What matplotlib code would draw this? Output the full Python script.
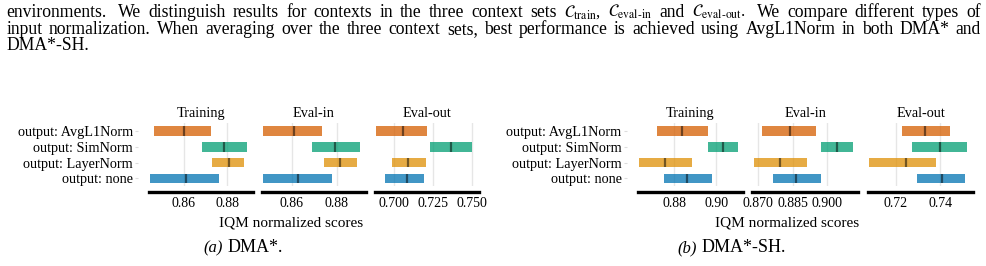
import matplotlib
matplotlib.use("Agg")
import matplotlib.pyplot as plt
import numpy as np

plt.rcParams['font.family'] = ['Liberation Serif', 'DejaVu Serif']
plt.rcParams['mathtext.fontset'] = 'stix'

W, H = 986, 266

methods = ['output: AvgL1Norm', 'output: SimNorm', 'output: LayerNorm', 'output: none']
colors = ['#D55E00', '#029E73', '#DE8F05', '#0173B2']
contexts = ['Training', 'Eval-in', 'Eval-out']

# Panel (a) DMA*: lower, upper, median per method
a_train_lo = [0.8464, 0.8686, 0.8732, 0.8445]
a_train_hi = [0.8727, 0.8891, 0.8877, 0.8764]
a_train_md = [0.8602, 0.8785, 0.8808, 0.8610]
a_evin_lo = [0.8471, 0.8689, 0.8742, 0.8471]
a_evin_hi = [0.8732, 0.8902, 0.8889, 0.8778]
a_evin_md = [0.8609, 0.8790, 0.8812, 0.8628]
a_evout_lo = [0.6882, 0.7231, 0.6985, 0.6940]
a_evout_hi = [0.7211, 0.7505, 0.7205, 0.7194]
a_evout_md = [0.7059, 0.7369, 0.7091, 0.7080]

# Panel (b) DMA*-SH
b_train_lo = [0.8718, 0.8960, 0.8632, 0.8751]
b_train_hi = [0.8960, 0.9103, 0.8884, 0.8979]
b_train_md = [0.8838, 0.9033, 0.8757, 0.8863]
b_evin_lo = [0.8716, 0.8973, 0.8681, 0.8764]
b_evin_hi = [0.8950, 0.9111, 0.8914, 0.8971]
b_evin_md = [0.8837, 0.9042, 0.8794, 0.8865]
b_evout_lo = [0.7228, 0.7273, 0.7080, 0.7295]
b_evout_hi = [0.7445, 0.7518, 0.7380, 0.7509]
b_evout_md = [0.7333, 0.7399, 0.7246, 0.7407]

a_ticks = [[0.86, 0.88], [0.86, 0.88], [0.700, 0.725, 0.750]]
a_ticklabels = [['0.86', '0.88'], ['0.86', '0.88'], ['0.700', '0.725', '0.750']]
b_ticks = [[0.88, 0.90], [0.870, 0.885, 0.900], [0.72, 0.74]]
b_ticklabels = [['0.88', '0.90'], ['0.870', '0.885', '0.900'], ['0.72', '0.74']]

a_xlims = [(0.8441, 0.8918), (0.8467, 0.8929), (0.6875, 0.7547)]
b_xlims = [(0.8626, 0.9129), (0.8673, 0.9135), (0.7075, 0.7548)]

a_px = [(149, 253), (262, 366), (375, 479)]
b_px = [(637.7, 743.3), (752, 858.3), (867.7, 973.3)]

fig = plt.figure(figsize=(W / 100, H / 100), dpi=100)

ax_top, ax_bot = 123.0, 186.4
PLOT_FS = 10.3


def make_panel(pxs, data, ticks, ticklabels, xlims):
    for i, ((x0, x1), (lo, hi, md)) in enumerate(zip(pxs, data)):
        ax = fig.add_axes([x0 / W, 1 - ax_bot / H, (x1 - x0) / W, (ax_bot - ax_top) / H])
        y = np.arange(len(methods))
        lo = np.array(lo); hi = np.array(hi)
        ax.barh(y, hi - lo, left=lo, height=0.6, color=colors, alpha=0.75, zorder=2)
        ax.vlines(md, y - 0.3, y + 0.3, colors='k', alpha=0.5, lw=1.6, zorder=3)
        ax.set_ylim(3.5, -0.5)
        ax.set_xlim(*xlims[i])
        ax.set_xticks(ticks[i])
        ax.set_xticklabels(ticklabels[i])
        ax.xaxis.grid(True, color='#e6e6e6', lw=1.0, zorder=0)
        ax.set_axisbelow(True)
        for s in ['top', 'right']:
            ax.spines[s].set_visible(False)
        ax.spines['left'].set_visible(False)
        ax.spines['left'].set_position(('outward', 8))
        ax.spines['bottom'].set_position(('outward', 4.3))
        ax.spines['bottom'].set_linewidth(2.4)
        ax.spines['bottom'].set_color('black')
        ax.tick_params(axis='x', length=0, pad=3.5, labelsize=10)
        if i == 0:
            ax.set_yticks(y)
            ax.set_yticklabels(methods)
            ax.tick_params(axis='y', length=2, width=0.8, color='#dddddd', pad=1.5,
                           labelsize=PLOT_FS)
        else:
            ax.set_yticks([])
        ax.set_title(contexts[i], fontsize=PLOT_FS, pad=4)


make_panel(a_px, [(a_train_lo, a_train_hi, a_train_md), (a_evin_lo, a_evin_hi, a_evin_md),
                  (a_evout_lo, a_evout_hi, a_evout_md)], a_ticks, a_ticklabels, a_xlims)
make_panel(b_px, [(b_train_lo, b_train_hi, b_train_md), (b_evin_lo, b_evin_hi, b_evin_md),
                  (b_evout_lo, b_evout_hi, b_evout_md)], b_ticks, b_ticklabels, b_xlims)

# x labels
fig.text(290.7 / W, 1 - 223 / H, 'IQM normalized scores', ha='center', va='center', fontsize=11)
fig.text(786.7 / W, 1 - 223 / H, 'IQM normalized scores', ha='center', va='center', fontsize=11)

# sub captions
fig.text(223 / W, 1 - 248 / H, '(a)', ha='right', va='center', fontsize=12, style='italic')
fig.text(227.5 / W, 1 - 248 / H, 'DMA*.', ha='left', va='center', fontsize=13)
fig.text(697 / W, 1 - 248 / H, '(b)', ha='right', va='center', fontsize=12, style='italic')
fig.text(701.7 / W, 1 - 248 / H, 'DMA*-SH.', ha='left', va='center', fontsize=13)

# caption (justified, extra space after sentence ends)
cap_lines = [
    r'environments. We distinguish results for contexts in the three context sets $\mathcal{C}_{\mathrm{train}}$, $\mathcal{C}_{\mathrm{eval\text{-}in}}$ and $\mathcal{C}_{\mathrm{eval\text{-}out}}$. We compare different types of',
    'input normalization. When averaging over the three context sets, best performance is achieved using AvgL1Norm in both DMA* and',
    'DMA*-SH.',
]
baselines = [17.0, 33.6, 50.3]
cap_fs = 12.7
renderer = fig.canvas.get_renderer()
x_left, x_right = 6.5, 981.0
for li, (line, bl) in enumerate(zip(cap_lines, baselines)):
    words = line.split(' ')
    texts = []
    widths = []
    for w in words:
        fs = cap_fs - 0.7 if w.startswith('$') else cap_fs
        t = fig.text(0, 1 - bl / H, w, ha='left', va='baseline', fontsize=fs)
        bb = t.get_window_extent(renderer)
        texts.append(t)
        widths.append(bb.width)
    # sentence ends get a wider space (weight 1.6)
    weights = [1.6 if w.endswith('.') and li == 0 else 1.0 for w in words[:-1]]
    if li < len(cap_lines) - 1:
        unit = (x_right - x_left - sum(widths)) / sum(weights)
    else:
        unit = 4.0
    x = x_left
    for k, (t, wd) in enumerate(zip(texts, widths)):
        t.set_x(x / W)
        if k < len(weights):
            x += wd + unit * weights[k]

fig.savefig('out.png', dpi=100)
